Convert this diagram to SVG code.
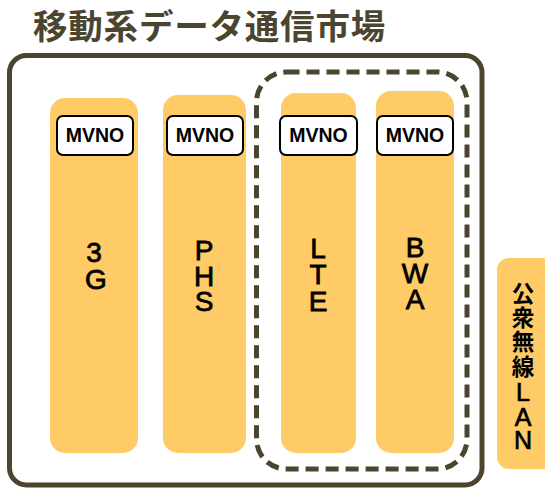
<svg xmlns="http://www.w3.org/2000/svg" width="545" height="488" viewBox="0 0 545 488">
<style>
.col{fill:#FECB66}
.mv{fill:#fff;stroke:#000;stroke-width:2}
.mvt{font-family:"Liberation Sans",Arial,sans-serif;font-weight:bold;font-size:19.5px;fill:#000;text-anchor:middle}
.lbl{font-family:"Liberation Sans",Arial,sans-serif;font-size:28px;fill:#000;stroke:#000;stroke-width:0.8px;text-anchor:middle}
.cjk{font-family:"Noto Sans CJK JP",sans-serif;font-weight:bold;font-size:22.5px;fill:#000;text-anchor:middle}
.lat{font-family:"Liberation Sans",Arial,sans-serif;font-size:25px;fill:#000;stroke:#000;stroke-width:0.7px;text-anchor:middle}
</style>
<rect width="545" height="488" fill="#fff"/>
<text x="33" y="39" font-family="'Noto Sans CJK JP',sans-serif" font-weight="bold" font-size="34.5" letter-spacing="0.8" fill="#4B4530">移動系データ通信市場</text>
<g id="frame">
<rect x="9.5" y="55.5" width="472.5" height="429.5" rx="17" fill="none" stroke="#4B4530" stroke-width="5"/>
</g>
<g id="col-3g">
<rect class="col" x="50" y="98" width="88" height="355" rx="15"/>
<rect class="mv" x="57" y="116" width="76" height="39" rx="6"/>
<text class="mvt" x="95" y="142">MVNO</text>
<text class="lbl" x="94" y="262">3</text>
<text class="lbl" x="96" y="289">G</text>
</g>
<g id="col-phs">
<rect class="col" x="163" y="95" width="83" height="358" rx="15"/>
<rect class="mv" x="167" y="116" width="76" height="39" rx="6"/>
<text class="mvt" x="205" y="142">MVNO</text>
<text class="lbl" x="204" y="260">P</text>
<text class="lbl" x="204" y="286">H</text>
<text class="lbl" x="204" y="311">S</text>
</g>
<g id="col-lte">
<rect class="col" x="281" y="93" width="75" height="360" rx="15"/>
<rect class="mv" x="280" y="116" width="77" height="39" rx="6"/>
<text class="mvt" x="318.5" y="142">MVNO</text>
<text class="lbl" x="318" y="258">L</text>
<text class="lbl" x="318" y="284">T</text>
<text class="lbl" x="318" y="311">E</text>
</g>
<g id="col-bwa">
<rect class="col" x="376" y="91" width="78" height="362" rx="15"/>
<rect class="mv" x="377" y="116" width="76" height="39" rx="6"/>
<text class="mvt" x="415" y="142">MVNO</text>
<text class="lbl" x="415" y="257">B</text>
<text class="lbl" x="415" y="283">W</text>
<text class="lbl" x="415" y="309">A</text>
</g>
<g id="group-dashed">
<rect x="256.5" y="72" width="210.5" height="397" rx="30" fill="none" stroke="#4B4530" stroke-width="5" stroke-dasharray="13 7"/>
</g>
<g id="wlan">
<rect class="col" x="497" y="258" width="60" height="211" rx="12"/>
<text class="cjk" x="523" y="302">公</text>
<text class="cjk" x="523" y="326">衆</text>
<text class="cjk" x="523" y="350">無</text>
<text class="cjk" x="523" y="375">線</text>
<text class="lat" x="523" y="401">L</text>
<text class="lat" x="523" y="426">A</text>
<text class="lat" x="523" y="449">N</text>
</g>
</svg>
